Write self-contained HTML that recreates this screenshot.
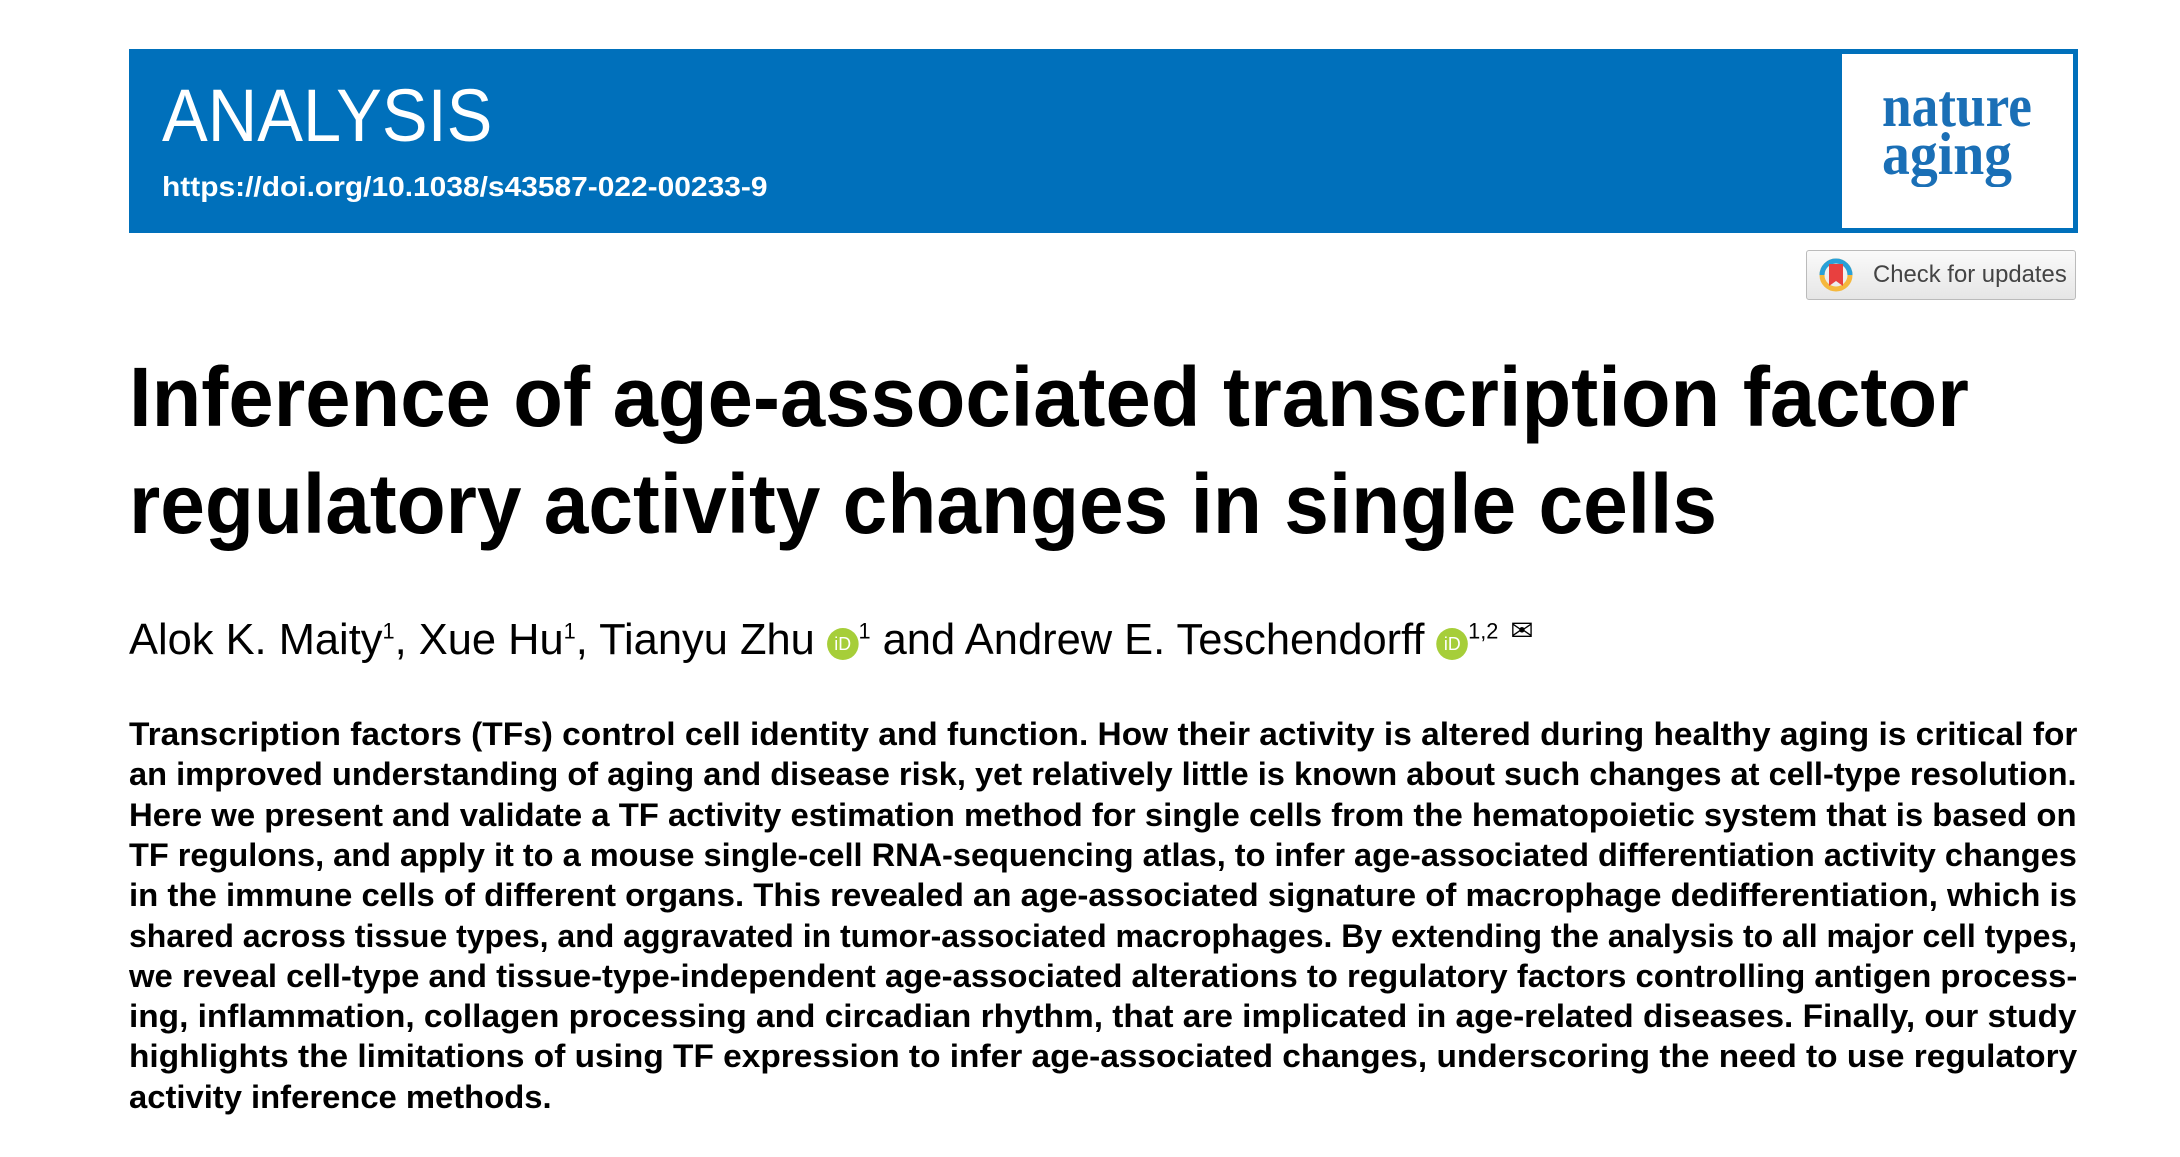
<!DOCTYPE html>
<html><head><meta charset="utf-8">
<style>
html,body{margin:0;padding:0;background:#fff;}
body{width:2180px;height:1157px;position:relative;overflow:hidden;font-family:"Liberation Sans",sans-serif;}
.abs{position:absolute;}
.fit{position:absolute;white-space:nowrap;transform-origin:0 0;}
</style></head><body>
<div class="abs" style="left:129px;top:49px;width:1949px;height:184px;background:#0070bb;"></div>
<div class="fit" data-w="330" style="left:162px;top:76px;font-size:74px;color:#fff;line-height:80px;">ANALYSIS</div>
<div class="fit" data-w="606" style="left:162px;top:171px;font-size:28px;font-weight:bold;color:#fff;line-height:32px;">https://doi.org/10.1038/s43587-022-00233-9</div>
<div class="abs" style="left:1842px;top:54px;width:231px;height:174px;background:#fff;"></div>
<div class="fit" data-w="150" style="left:1882px;top:76px;font-family:'Liberation Serif',serif;font-weight:bold;font-size:60px;color:#1a6fb6;line-height:60px;">nature</div>
<div class="fit" data-w="130" style="left:1882px;top:124px;font-family:'Liberation Serif',serif;font-weight:bold;font-size:60px;color:#1a6fb6;line-height:60px;">aging</div>
<div class="abs" style="left:1806px;top:250px;width:268px;height:48px;border:1px solid #bbb;border-radius:3px;background:linear-gradient(#fafafa,#e6e6e6);">
  <svg width="34" height="38" style="position:absolute;left:12px;top:5px" viewBox="0 0 34 38"><circle cx="17" cy="19" r="14" fill="none" stroke="#f5b83d" stroke-width="5"/><path d="M3 19a14 14 0 0 1 28 0" fill="none" stroke="#29a0d8" stroke-width="5"/><path d="M10 8h14v22l-7-5-7 5z" fill="#e8403f"/></svg>
  <div class="fit" data-w="194" style="left:66px;top:10px;font-size:24px;color:#444;line-height:28px;">Check for updates</div>
</div>
<div class="fit" data-w="1840" style="left:129px;top:349px;font-size:84px;font-weight:bold;color:#000;line-height:96px;">Inference of age-associated transcription factor</div>
<div class="fit" data-w="1588" style="left:129px;top:456px;font-size:84px;font-weight:bold;color:#000;line-height:96px;">regulatory activity changes in single cells</div>
<div class="fit" data-w="1405" style="left:129px;top:605px;font-size:44px;color:#000;line-height:52px;">Alok K. Maity<sup style="font-size:22px">1</sup>, Xue Hu<sup style="font-size:22px">1</sup>, Tianyu Zhu <span style="display:inline-block;width:32px;height:32px;border-radius:50%;background:#a6ce39;color:#fff;font-size:18px;text-align:center;line-height:32px;vertical-align:4px;">iD</span><sup style="font-size:22px">1</sup> and Andrew E. Teschendorff <span style="display:inline-block;width:32px;height:32px;border-radius:50%;background:#a6ce39;color:#fff;font-size:18px;text-align:center;line-height:32px;vertical-align:4px;">iD</span><sup style="font-size:22px">1,2</sup> <span style="font-size:28px;vertical-align:14px;">&#9993;</span></div>
<div>
<div class="fit ab" data-w="1948">Transcription factors (TFs) control cell identity and function. How their activity is altered during healthy aging is critical for</div>
<div class="fit ab" data-w="1948">an improved understanding of aging and disease risk, yet relatively little is known about such changes at cell-type resolution.</div>
<div class="fit ab" data-w="1948">Here we present and validate a TF activity estimation method for single cells from the hematopoietic system that is based on</div>
<div class="fit ab" data-w="1948">TF regulons, and apply it to a mouse single-cell RNA-sequencing atlas, to infer age-associated differentiation activity changes</div>
<div class="fit ab" data-w="1948">in the immune cells of different organs. This revealed an age-associated signature of macrophage dedifferentiation, which is</div>
<div class="fit ab" data-w="1948">shared across tissue types, and aggravated in tumor-associated macrophages. By extending the analysis to all major cell types,</div>
<div class="fit ab" data-w="1948">we reveal cell-type and tissue-type-independent age-associated alterations to regulatory factors controlling antigen process-</div>
<div class="fit ab" data-w="1948">ing, inflammation, collagen processing and circadian rhythm, that are implicated in age-related diseases. Finally, our study</div>
<div class="fit ab" data-w="1948">highlights the limitations of using TF expression to infer age-associated changes, underscoring the need to use regulatory</div>
<div class="fit ab" data-w="423">activity inference methods.</div>
</div>
<script>
var abs=document.querySelectorAll('.ab');
for(var i=0;i<abs.length;i++){var a=abs[i];a.style.left='129px';a.style.top=(715+i*40.3)+'px';a.style.fontSize='32px';a.style.fontWeight='bold';a.style.lineHeight='38px';a.style.color='#000';}
var f=document.querySelectorAll('.fit');
for(var j=0;j<f.length;j++){var e=f[j];var w=parseFloat(e.getAttribute('data-w'));var n=e.scrollWidth;if(n>0)e.style.transform='scaleX('+(w/n)+')';}
</script>
</body></html>
